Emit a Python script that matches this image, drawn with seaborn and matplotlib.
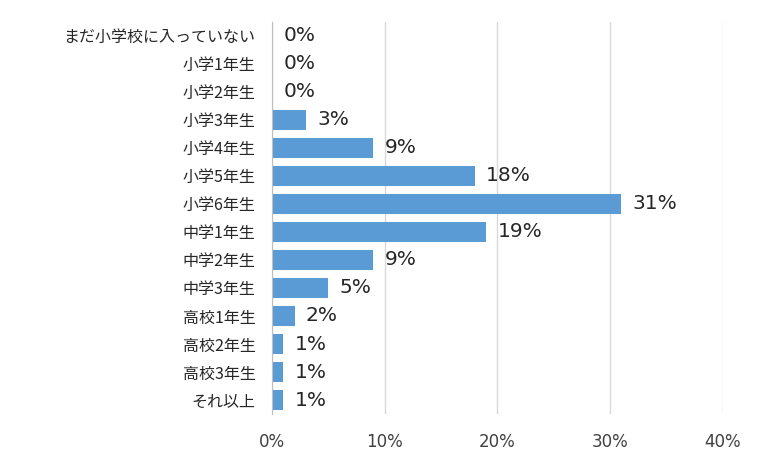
import matplotlib
matplotlib.use("Agg")
import matplotlib.pyplot as plt
import seaborn as sns
import pandas as pd

plt.rcParams['font.family'] = 'Noto Sans CJK JP'

# データ
categories = ['まだ小学校に入っていない', '小学1年生', '小学2年生', '小学3年生', '小学4年生',
              '小学5年生', '小学6年生', '中学1年生', '中学2年生', '中学3年生',
              '高校1年生', '高校2年生', '高校3年生', 'それ以上']
values = [0, 0, 0, 3, 9, 18, 31, 19, 9, 5, 2, 1, 1, 1]
xticks = [0, 10, 20, 30, 40]

df = pd.DataFrame({'category': categories, 'value': values})

fig = plt.figure(figsize=(7.6, 4.54), dpi=100)
ax = fig.add_axes([0.358, 0.088, 0.593, 0.864])

sns.barplot(data=df, x='value', y='category', color='#5B9BD5', width=0.72,
            saturation=1, ax=ax, zorder=3)

for i, v in enumerate(values):
    ax.text(v + 1.0, i, f'{v}%', va='center', ha='left', fontsize=14.5,
            color='#262626', family='DejaVu Sans')

ax.set_xlim(0, 40)
ax.set_xticks(xticks)
ax.set_xticklabels([f'{t}%' for t in xticks], fontsize=12, color='#404040',
                   family='DejaVu Sans')
ax.tick_params(axis='y', labelsize=11.5, colors='#262626', length=0, pad=12)
ax.tick_params(axis='x', length=0, pad=14)
ax.set_xlabel('')
ax.set_ylabel('')
ax.grid(axis='x', color='#D9D9D9', linewidth=1, zorder=0)
for s in ['top', 'right', 'bottom']:
    ax.spines[s].set_visible(False)
ax.spines['left'].set_color('#BFBFBF')
ax.spines['left'].set_zorder(4)

fig.savefig('out.png', dpi=100)
